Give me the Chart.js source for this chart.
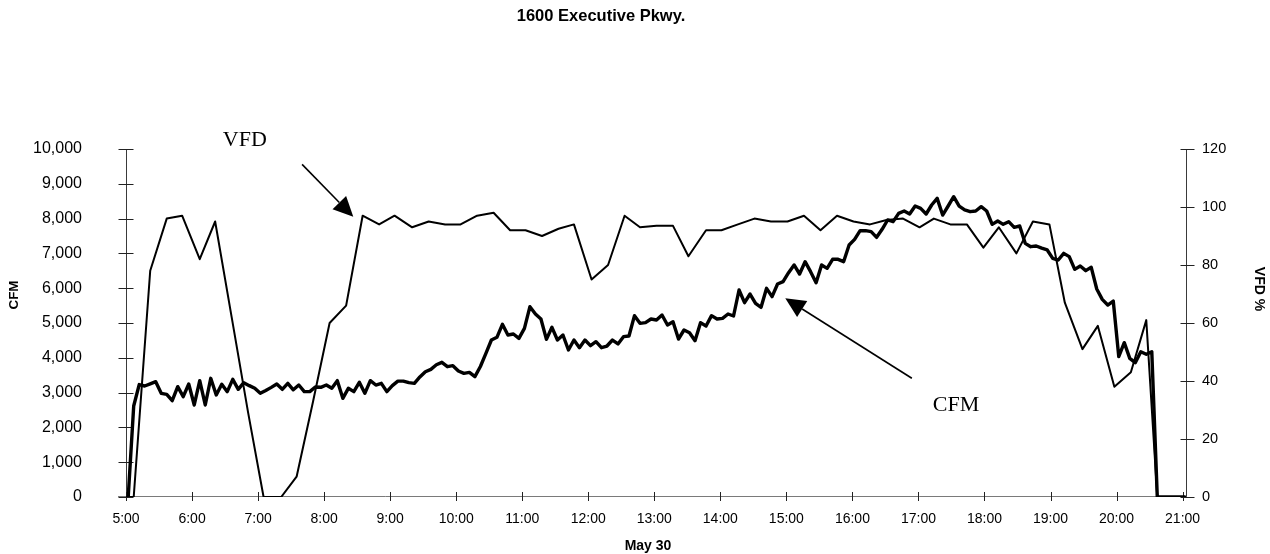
<!DOCTYPE html>
<html>
<head>
<meta charset="utf-8">
<script src="https://cdn.jsdelivr.net/npm/chart.js@4.4.1/dist/chart.umd.min.js"></script>
<style>
  html, body { margin: 0; padding: 0; background: #ffffff; }
  canvas { display: block; }
</style>
</head>
<body>
<canvas id="chart" width="1270" height="554"></canvas>
<script>
// ---- Air-flow log, 1600 Executive Pkwy., May 30 ----

// Supply air flow (CFM), logged every 5 minutes
const cfmTimes = [
  '5:02','5:07','5:12','5:17','5:22','5:27','5:32','5:37','5:42','5:47','5:52','5:57',
  '6:02','6:07','6:12','6:17','6:22','6:27','6:32','6:37','6:42','6:47','6:52','6:57',
  '7:02','7:07','7:12','7:17','7:22','7:27','7:32','7:37','7:42','7:47','7:52','7:57',
  '8:02','8:07','8:12','8:17','8:22','8:27','8:32','8:37','8:42','8:47','8:52','8:57',
  '9:02','9:07','9:12','9:17','9:22','9:27','9:32','9:37','9:42','9:47','9:52','9:57',
  '10:02','10:07','10:12','10:17','10:22','10:27','10:32','10:37','10:42','10:47','10:52','10:57',
  '11:02','11:07','11:12','11:17','11:22','11:27','11:32','11:37','11:42','11:47','11:52','11:57',
  '12:02','12:07','12:12','12:17','12:22','12:27','12:32','12:37','12:42','12:47','12:52','12:57',
  '13:02','13:07','13:12','13:17','13:22','13:27','13:32','13:37','13:42','13:47','13:52','13:57',
  '14:02','14:07','14:12','14:17','14:22','14:27','14:32','14:37','14:42','14:47','14:52','14:57',
  '15:02','15:07','15:12','15:17','15:22','15:27','15:32','15:37','15:42','15:47','15:52','15:57',
  '16:02','16:07','16:12','16:17','16:22','16:27','16:32','16:37','16:42','16:47','16:52','16:57',
  '17:02','17:07','17:12','17:17','17:22','17:27','17:32','17:37','17:42','17:47','17:52','17:57',
  '18:02','18:07','18:12','18:17','18:22','18:27','18:32','18:37','18:42','18:47','18:52','18:57',
  '19:02','19:07','19:12','19:17','19:22','19:27','19:32','19:37','19:42','19:47','19:52','19:57',
  '20:02','20:07','20:12','20:17','20:22','20:27','20:32','20:37','20:42','20:47','20:52','20:57',
  '21:02'
];
const cfmValues = [
  0, 2615, 3230, 3190, 3250, 3314, 2979, 2950, 2768, 3170, 2883, 3247,
  2644, 3343, 2644, 3410, 2931, 3240, 3027, 3381, 3094, 3285, 3200, 3123,
  2979, 3060, 3150, 3247, 3094, 3266, 3080, 3218, 3027, 3027, 3160, 3152,
  3218, 3123, 3343, 2836, 3123, 3027, 3295, 2979, 3343, 3218, 3266, 3027,
  3200, 3330, 3330, 3285, 3266, 3450, 3600, 3669, 3800, 3870, 3745, 3774,
  3621, 3554, 3582, 3458, 3750, 4126, 4511, 4588, 4962, 4655, 4684, 4559,
  4847, 5469, 5259, 5115, 4530, 4876, 4511, 4655, 4224, 4511, 4291, 4511,
  4349, 4464, 4291, 4339, 4511, 4397, 4607, 4626, 5211, 4990, 5010, 5115,
  5086, 5230, 4943, 5038, 4540, 4799, 4722, 4492, 5010, 4914, 5211, 5115,
  5134, 5259, 5201, 5948, 5584, 5833, 5565, 5450, 5996, 5757, 6121, 6188,
  6446, 6667, 6408, 6762, 6475, 6159, 6667, 6571, 6830, 6830, 6762, 7241,
  7404, 7653, 7653, 7625, 7462, 7692, 7960, 7912, 8151, 8218, 8132, 8362,
  8295, 8132, 8391, 8582, 8103, 8362, 8630, 8360, 8250, 8199, 8218, 8343,
  8218, 7835, 7931, 7835, 7912, 7749, 7787, 7289, 7193, 7213, 7150, 7098,
  6858, 6810, 7002, 6906, 6542, 6638, 6504, 6600, 5977, 5680, 5517, 5632,
  4033, 4435, 3985, 3860, 4176, 4100, 4176, 0, 0, 0, 0, 0,
  0
];

// Fan drive speed (VFD %), logged roughly every 15 minutes
const vfdTimes = [
  '5:00','5:07','5:22','5:37','5:51','6:07','6:21','6:36','6:51','7:05','7:21','7:35',
  '7:50','8:05','8:20','8:35','8:50','9:04','9:20','9:35','9:50','10:04','10:19','10:34',
  '10:49','11:03','11:18','11:33','11:47','12:03','12:18','12:33','12:47','13:02','13:17','13:31',
  '13:47','14:01','14:16','14:31','14:46','15:01','15:16','15:31','15:46','16:01','16:16','16:31',
  '16:46','17:01','17:14','17:29','17:44','17:59','18:13','18:29','18:44','18:59','19:13','19:29',
  '19:43','19:58','20:13','20:27','20:37','21:00'
];
const vfdValues = [
  0, 0, 78, 96, 97, 82, 95, 62, 29, 0, 0, 7,
  33, 60, 66, 97, 94, 97, 93, 95, 94, 94, 97, 98,
  92, 92, 90, 92.5, 94, 75, 80, 97, 93, 93.5, 93.5, 83,
  92, 92, 94, 96, 95, 95, 97, 92, 97, 95, 94, 95.5,
  96, 93, 96, 94, 94, 86, 93, 84, 95, 94, 67, 51,
  59, 38, 43, 61, 0, 0
];

// Axis ticks
const hourLabels = ['5:00','6:00','7:00','8:00','9:00','10:00','11:00','12:00','13:00',
                    '14:00','15:00','16:00','17:00','18:00','19:00','20:00','21:00'];
const cfmTicks = [0, 1000, 2000, 3000, 4000, 5000, 6000, 7000, 8000, 9000, 10000];
const vfdTicks = [0, 20, 40, 60, 80, 100, 120];

// Text
const titleText = '1600 Executive Pkwy.';
const xTitle = 'May 30';
const yTitle = 'CFM';
const y2Title = 'VFD %';

// Call-outs pointing at each trace (time, value on the trace's own axis)
const callouts = [
  { text: 'VFD', axis: 'y2', textAt: ['6:28', 121],
    from: ['7:40', 114.7], to: ['8:26.5', 96.6] },
  { text: 'CFM', axis: 'y', textAt: ['17:13', 2480],
    from: ['16:54', 3411], to: ['14:59', 5710] }
];

const toMin = s => { const p = s.split(':'); return Number(p[0]) * 60 + Number(p[1]); };
const fmtTime = m => Math.floor(m / 60) + ':' + String(Math.round(m % 60)).padStart(2, '0');

const SANS = "'Liberation Sans', Arial, Helvetica, sans-serif";
const SERIF = "'Liberation Serif', 'Times New Roman', serif";

// Axis lines with ticks that cross the line (drawn under the traces)
const axesPlugin = {
  id: 'crossAxes',
  beforeDatasetsDraw(chart) {
    const { ctx, chartArea: a, scales } = chart;
    const xs = scales.x, ys = scales.y, y2 = scales.y2;
    ctx.save();
    ctx.lineWidth = 1;
    const seg = (x1, y1, x2, y2_, col) => {
      ctx.strokeStyle = col;
      ctx.beginPath(); ctx.moveTo(x1, y1); ctx.lineTo(x2, y2_); ctx.stroke();
    };
    const lx = Math.round(a.left) + 0.5;
    const rx = Math.round(a.right) - 0.5;
    const by = Math.round(a.bottom) - 0.5;
    seg(lx, a.top, lx, by, '#3a3a3a');
    seg(rx, a.top, rx, by, '#3a3a3a');
    seg(a.left - 8, by, a.right, by, '#7a7a7a');
    ys.ticks.forEach(t => {
      const py = Math.round(ys.getPixelForValue(t.value)) + 0.5;
      seg(lx - 8, py, lx + 7, py, '#222');
    });
    y2.ticks.forEach(t => {
      const py = Math.round(y2.getPixelForValue(t.value)) + 0.5;
      seg(rx - 6, py, rx + 8, py, '#222');
    });
    xs.ticks.forEach(t => {
      const px = Math.round(xs.getPixelForValue(t.value)) + 0.5;
      seg(px, by - 4.5, px, by + 4.5, '#222');
    });
    ctx.restore();
  }
};

// Titles and call-outs
const textPlugin = {
  id: 'chartText',
  afterDraw(chart) {
    const { ctx, scales } = chart;
    ctx.save();
    ctx.fillStyle = '#000';
    ctx.textAlign = 'center';
    ctx.textBaseline = 'middle';

    ctx.font = 'bold 16.5px ' + SANS;
    ctx.fillText(titleText, 601, 16);

    ctx.font = 'bold 14px ' + SANS;
    ctx.fillText(xTitle, 648, 546);

    ctx.save();
    ctx.translate(14, 295);
    ctx.rotate(-Math.PI / 2);
    ctx.font = 'bold 13.5px ' + SANS;
    ctx.fillText(yTitle, 0, 0);
    ctx.restore();

    ctx.save();
    ctx.translate(1259, 289);
    ctx.rotate(Math.PI / 2);
    ctx.font = 'bold 14px ' + SANS;
    ctx.fillText(y2Title, 0, 0);
    ctx.restore();

    const xs = scales.x;
    callouts.forEach(c => {
      const ys = scales[c.axis];
      const px = t => xs.getPixelForValue(toMin(t));
      const tx = px(c.textAt[0]), ty = ys.getPixelForValue(c.textAt[1]);
      ctx.font = '22px ' + SERIF;
      ctx.textAlign = 'left';
      ctx.textBaseline = 'alphabetic';
      ctx.fillText(c.text, tx, ty);

      const x1 = px(c.from[0]), y1 = ys.getPixelForValue(c.from[1]);
      const x2 = px(c.to[0]), y2 = ys.getPixelForValue(c.to[1]);
      const ang = Math.atan2(y2 - y1, x2 - x1);
      const headLen = 20, headHalf = 9.5;
      const bx = x2 - headLen * Math.cos(ang), by = y2 - headLen * Math.sin(ang);
      ctx.strokeStyle = '#000';
      ctx.lineWidth = 1.6;
      ctx.beginPath(); ctx.moveTo(x1, y1); ctx.lineTo(bx, by); ctx.stroke();
      ctx.beginPath();
      ctx.moveTo(x2, y2);
      ctx.lineTo(bx + headHalf * Math.sin(ang), by - headHalf * Math.cos(ang));
      ctx.lineTo(bx - headHalf * Math.sin(ang), by + headHalf * Math.cos(ang));
      ctx.closePath();
      ctx.fill();
    });
    ctx.restore();
  }
};

const cfmPoints = cfmTimes.map((t, i) => ({ x: toMin(t), y: cfmValues[i] }));
const vfdPoints = vfdTimes.map((t, i) => ({ x: toMin(t), y: vfdValues[i] }));

new Chart(document.getElementById('chart'), {
  type: 'line',
  data: {
    datasets: [
      {
        label: 'VFD %', data: vfdPoints, yAxisID: 'y2',
        borderColor: '#000', borderWidth: 2, pointRadius: 0, tension: 0,
        borderJoinStyle: 'round', fill: false
      },
      {
        label: 'CFM', data: cfmPoints, yAxisID: 'y',
        borderColor: '#000', borderWidth: 3.4, pointRadius: 0, tension: 0,
        borderJoinStyle: 'round', borderCapStyle: 'round', fill: false
      }
    ]
  },
  options: {
    responsive: false,
    animation: false,
    devicePixelRatio: 1,
    layout: { padding: { top: 149, left: 0, right: 0, bottom: 0 } },
    plugins: {
      legend: { display: false },
      tooltip: { enabled: false },
      title: { display: false }
    },
    scales: {
      x: {
        type: 'linear', position: 'bottom',
        min: toMin('5:00'), max: toMin('21:04'),
        afterBuildTicks: s => { s.ticks = hourLabels.map(l => ({ value: toMin(l) })); },
        afterFit: s => { s.height = 57; },
        grid: { display: false, drawTicks: false },
        border: { display: false },
        ticks: {
          callback: v => fmtTime(v), autoSkip: false, maxRotation: 0,
          padding: 14, color: '#000', font: { family: SANS, size: 14 }
        }
      },
      y: {
        type: 'linear', position: 'left', min: 0, max: 10000,
        afterBuildTicks: s => { s.ticks = cfmTicks.map(v => ({ value: v })); },
        afterFit: s => { s.width = 126; },
        grid: { display: false, drawTicks: false },
        border: { display: false },
        ticks: {
          callback: v => v.toLocaleString('en-US'),
          padding: 44, color: '#000', font: { family: SANS, size: 16 }
        }
      },
      y2: {
        type: 'linear', position: 'right', min: 0, max: 120,
        afterBuildTicks: s => { s.ticks = vfdTicks.map(v => ({ value: v })); },
        afterFit: s => { s.width = 83; },
        grid: { display: false, drawTicks: false },
        border: { display: false },
        ticks: {
          callback: v => String(v),
          padding: 15, color: '#000', font: { family: SANS, size: 14.5 }
        }
      }
    }
  },
  plugins: [axesPlugin, textPlugin]
});
</script>
</body>
</html>
